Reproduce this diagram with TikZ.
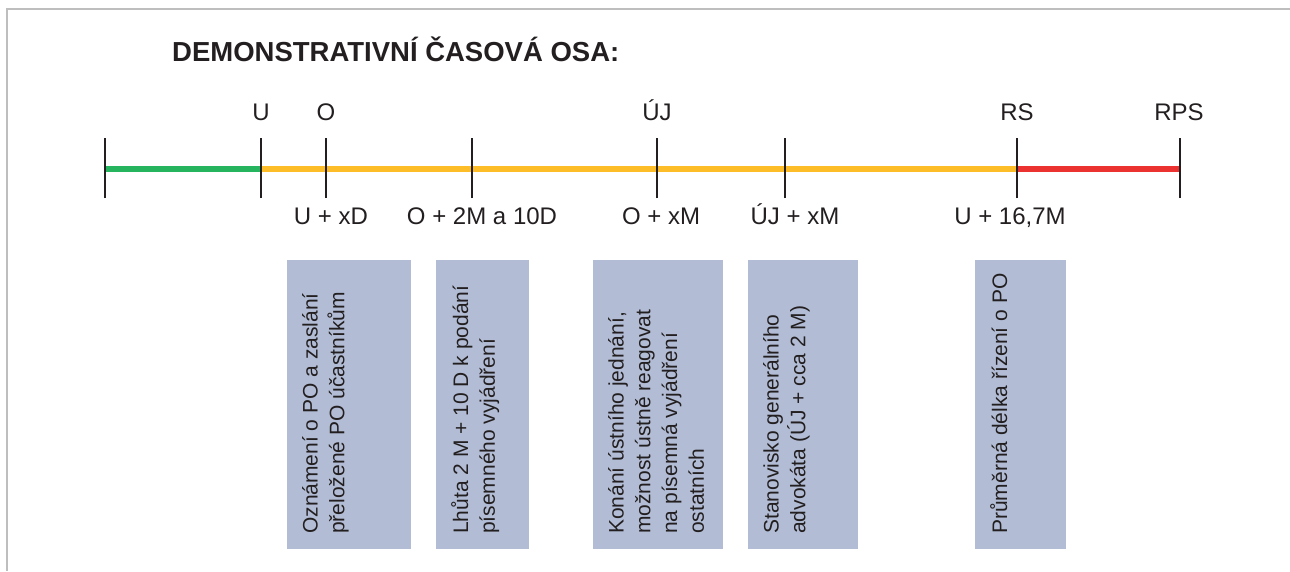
\documentclass[tikz,border=0pt]{standalone}
\usepackage{fontspec}
\setmainfont{Liberation Sans}
\definecolor{frameg}{RGB}{190,190,190}
\definecolor{tgreen}{RGB}{38,180,95}
\definecolor{tyellow}{RGB}{253,189,40}
\definecolor{tred}{RGB}{236,50,48}
\definecolor{boxblue}{RGB}{178,189,213}
\definecolor{txt}{RGB}{35,31,32}
\begin{document}
\begin{tikzpicture}[x=1pt,y=-1pt,
  tick/.style={draw=txt,line width=1.1pt},
  seg/.style={line width=6pt},
  toplab/.style={text=txt,font=\fontsize{24}{28}\selectfont,anchor=base,inner sep=0},
  botlab/.style={text=txt,font=\fontsize{24}{28}\selectfont,anchor=base,inner sep=0},
  infobox/.style={fill=boxblue,draw=none},
  boxtext/.style={text=txt,font=\fontsize{21}{26.7}\selectfont,rotate=90,anchor=north west,inner sep=0,align=left}
]
\useasboundingbox (0,0) rectangle (1290,571);
% frame
\draw[frameg,line width=1.2pt] (7,571) -- (7,9) -- (1290,9);
% title
\node[text=txt,font=\fontsize{27.5}{32}\selectfont\bfseries,anchor=base west,inner sep=0] (title) at (172,61) {DEMONSTRATIVNÍ ČASOVÁ OSA:};
% tick coordinates
\coordinate (t0) at (105,169);
\coordinate (tU) at (261,169);
\coordinate (tO) at (326,169);
\coordinate (tO2) at (472,169);
\coordinate (tUJ) at (657,169);
\coordinate (tUJ2) at (785,169);
\coordinate (tRS) at (1017,169);
\coordinate (tRPS) at (1180,169);
% segments
\draw[seg,tgreen] (t0) -- (tU);
\draw[seg,tyellow] (tU) -- (tRS);
\draw[seg,tred] (tRS) -- (tRPS);
% ticks
\foreach \t in {t0,tU,tO,tO2,tUJ,tUJ2,tRS,tRPS}{
  \draw[tick] ([yshift=-29pt]\t) -- ([yshift=31pt]\t);
}
% top labels
\node[toplab] (lU) at (261,120) {U};
\node[toplab] (lO) at (326,120) {O};
\node[toplab] (lUJ) at (657,120) {ÚJ};
\node[toplab] (lRS) at (1017,120) {RS};
\node[toplab] (lRPS) at (1179,120) {RPS};
% bottom labels
\node[botlab] (bU) at (331,224) {U + xD};
\node[botlab] (bO) at (482,224) {O + 2M a 10D};
\node[botlab] (bOx) at (661,224) {O + xM};
\node[botlab] (bUJ) at (795,224) {ÚJ + xM};
\node[botlab] (bRS) at (1010,224) {U + 16,7M};
% boxes
\fill[infobox] (287,260) rectangle (411,549);
\fill[infobox] (436,260) rectangle (529,549);
\fill[infobox] (593,260) rectangle (723,549);
\fill[infobox] (748,260) rectangle (858,549);
\fill[infobox] (975,260) rectangle (1066,549);
\node[boxtext] (x1) at (302,534) {Oznámení o PO a zaslání\\přeložené PO účastníkům};
\node[boxtext] (x2) at (451,534) {Lhůta 2 M + 10 D k podání\\písemného vyjádření};
\node[boxtext] (x3) at (608,534) {Konání ústního jednání,\\možnost ústně reagovat\\na písemná vyjádření\\ostatních};
\node[boxtext] (x4) at (763,534) {Stanovisko generálního\\advokáta (ÚJ + cca 2 M)};
\node[boxtext] (x5) at (990,534) {Průměrná délka řízení o PO};
\end{tikzpicture}
\end{document}
